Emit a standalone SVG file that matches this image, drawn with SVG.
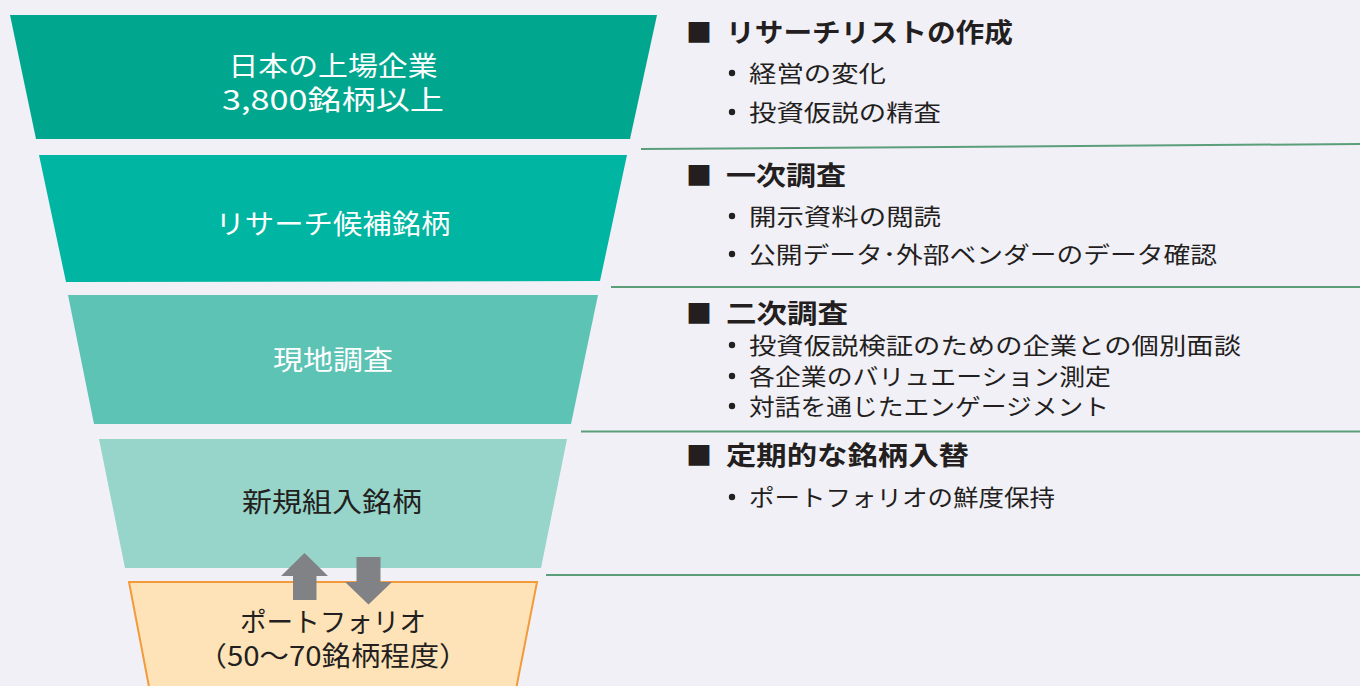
<svg xmlns="http://www.w3.org/2000/svg" width="1360" height="686" viewBox="0 0 1360 686">
<style>
.lbl{font-family:"Noto Sans CJK JP","Noto Sans",sans-serif;font-size:27px;text-anchor:middle}
.w{fill:#ffffff}
.d{fill:#231f20}
.hd{font-family:"Noto Sans CJK JP","Noto Sans",sans-serif;font-size:26px;font-weight:bold;fill:#231f20}
.bl{font-family:"Noto Sans CJK JP","Noto Sans",sans-serif;font-size:23px;fill:#231f20}
.sep{stroke:#5b9e7a;stroke-width:2;fill:none}
.arr{fill:#808285}
.dot{fill:#231f20}
</style>
<rect x="0" y="0" width="1360" height="686" fill="#f2f0f7"/>

<g id="node-listed">
<polygon points="10,15 657,15 630,139 36,139" fill="#00a78e"/>
<text class="lbl w" x="333" y="76" textLength="209" lengthAdjust="spacingAndGlyphs">日本の上場企業</text>
<text class="lbl w" x="333" y="110" textLength="222" lengthAdjust="spacingAndGlyphs">3,800銘柄以上</text>
</g>
<g id="node-candidates">
<polygon points="39,155 627,155 600,281 66,282" fill="#00b5a1"/>
<text class="lbl w" x="333" y="234" textLength="235" lengthAdjust="spacingAndGlyphs">リサーチ候補銘柄</text>
</g>
<g id="node-field">
<polygon points="68,295 598,295 571,424 94,424" fill="#5dc3b4"/>
<text class="lbl w" x="333" y="370" textLength="120" lengthAdjust="spacingAndGlyphs">現地調査</text>
</g>
<g id="node-new">
<polygon points="99,439 567,439 541,568 125,568" fill="#97d4c9"/>
<text class="lbl d" x="332" y="512" textLength="180" lengthAdjust="spacingAndGlyphs">新規組入銘柄</text>
</g>
<g id="node-portfolio">
<polygon points="129,582 537,582 515.5,692 150,692" fill="#ffe3b8" stroke="#f39a3a" stroke-width="2"/>
<text class="lbl d" x="333" y="632" textLength="186" lengthAdjust="spacingAndGlyphs">ポートフォリオ</text>
<text class="lbl d" x="333" y="666" textLength="271" lengthAdjust="spacingAndGlyphs">（50〜70銘柄程度）</text>
</g>

<g id="connectors">
<polygon class="arr" points="304.5,553 328,576 316.5,576 316.5,600 293,600 293,576 281,576"/>
<polygon class="arr" points="356.5,557 380.5,557 380.5,582 392,582 368.5,604.5 345,582 356.5,582"/>
</g>

<g id="separators">
<line class="sep" x1="641" y1="149" x2="1360" y2="144"/>
<line class="sep" x1="611" y1="287" x2="1360" y2="287"/>
<line class="sep" x1="581" y1="431.5" x2="1360" y2="431.5"/>
<line class="sep" x1="546" y1="575" x2="1360" y2="575"/>
</g>

<g id="sec-list">
<text class="hd" x="686" y="42" textLength="26" lengthAdjust="spacingAndGlyphs">■</text>
<text class="hd" x="726" y="42" textLength="287" lengthAdjust="spacingAndGlyphs">リサーチリストの作成</text>
<circle class="dot" cx="732" cy="73" r="3.2"/>
<text class="bl" x="749" y="82" textLength="137" lengthAdjust="spacingAndGlyphs">経営の変化</text>
<circle class="dot" cx="732" cy="112" r="3.2"/>
<text class="bl" x="749" y="121" textLength="192" lengthAdjust="spacingAndGlyphs">投資仮説の精査</text>
</g>
<g id="sec-first">
<text class="hd" x="686" y="185" textLength="26" lengthAdjust="spacingAndGlyphs">■</text>
<text class="hd" x="726" y="185" textLength="120" lengthAdjust="spacingAndGlyphs">一次調査</text>
<circle class="dot" cx="732" cy="216" r="3.2"/>
<text class="bl" x="749" y="225" textLength="192" lengthAdjust="spacingAndGlyphs">開示資料の閲読</text>
<circle class="dot" cx="732" cy="254" r="3.2"/>
<text class="bl" x="749" y="263" textLength="468" lengthAdjust="spacingAndGlyphs">公開データ･外部ベンダーのデータ確認</text>
</g>
<g id="sec-second">
<text class="hd" x="686" y="323" textLength="26" lengthAdjust="spacingAndGlyphs">■</text>
<text class="hd" x="726" y="323" textLength="122" lengthAdjust="spacingAndGlyphs">二次調査</text>
<circle class="dot" cx="732" cy="345" r="3.2"/>
<text class="bl" x="749" y="354" textLength="492" lengthAdjust="spacingAndGlyphs">投資仮説検証のための企業との個別面談</text>
<circle class="dot" cx="732" cy="376" r="3.2"/>
<text class="bl" x="749" y="385" textLength="362" lengthAdjust="spacingAndGlyphs">各企業のバリュエーション測定</text>
<circle class="dot" cx="732" cy="406" r="3.2"/>
<text class="bl" x="749" y="415" textLength="360" lengthAdjust="spacingAndGlyphs">対話を通じたエンゲージメント</text>
</g>
<g id="sec-rotation">
<text class="hd" x="686" y="465" textLength="26" lengthAdjust="spacingAndGlyphs">■</text>
<text class="hd" x="726" y="465" textLength="243" lengthAdjust="spacingAndGlyphs">定期的な銘柄入替</text>
<circle class="dot" cx="732" cy="497" r="3.2"/>
<text class="bl" x="749" y="506" textLength="306" lengthAdjust="spacingAndGlyphs">ポートフォリオの鮮度保持</text>
</g>
</svg>
